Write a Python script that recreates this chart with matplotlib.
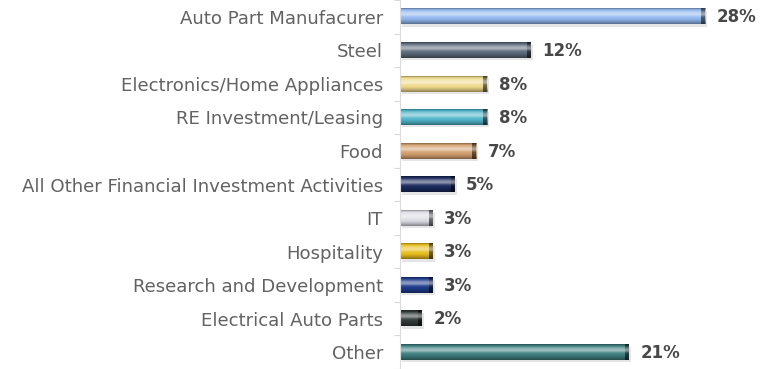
import numpy as np
import matplotlib
matplotlib.use("Agg")
import matplotlib.pyplot as plt
from matplotlib.colors import to_rgb

categories = [
    "Auto Part Manufacurer",
    "Steel",
    "Electronics/Home Appliances",
    "RE Investment/Leasing",
    "Food",
    "All Other Financial Investment Activities",
    "IT",
    "Hospitality",
    "Research and Development",
    "Electrical Auto Parts",
    "Other",
]
values = [28, 12, 8, 8, 7, 5, 3, 3, 3, 2, 21]
bar_colors = [
    "#92b8ee", "#5c6a7a", "#eed98a", "#50b4c8", "#d29f6e", "#1a2a5c",
    "#dcdce4", "#e8be1e", "#1e3a8c", "#323a3a", "#3e7e7e",
]
value_labels = [f"{v}%" for v in values]

plt.rcParams["font.family"] = ["DejaVu Sans"]

W, H, DPI = 776, 369, 100
fig = plt.figure(figsize=(W / DPI, H / DPI), dpi=DPI)
ax = fig.add_axes([400 / W, 0.0, 376 / W, 1.0])

px_per_unit = 10.9
ax.set_xlim(0, 376 / px_per_unit)
row = 34.0
ax.set_ylim(10 + 12 / row, -17 / row)
ax.set_autoscale_on(False)

y = np.arange(len(categories))
bh = 0.46


def mix(c, target, f):
    c = np.array(to_rgb(c))
    return c + (np.array(target) - c) * f


# vertical shading profile of a bar: (position from top, amount)
# positive amounts lighten towards white, negative darken towards black
stops_t = [0.0, 0.12, 0.30, 0.42, 0.55, 0.78, 1.0]
stops_a = [-0.35, 0.05, 0.45, 0.50, 0.10, -0.10, -0.40]
nrow = 40
tt = np.linspace(0, 1, nrow)
amt = np.interp(tt, stops_t, stops_a)


def bar_image(color, ncol=60):
    img = np.zeros((nrow, ncol, 3))
    for i, a in enumerate(amt):
        img[i, :, :] = mix(color, (1, 1, 1), a) if a >= 0 else mix(color, (0, 0, 0), -a)
    return img


for yi, v, c, lab in zip(y, values, bar_colors, value_labels):
    # soft drop shadow
    ax.barh(yi + 0.07, v, height=bh, left=0.2, color="#000000", alpha=0.10,
            linewidth=0, zorder=1)
    # shaded body
    ax.imshow(bar_image(c), extent=(0, v, yi + bh / 2, yi - bh / 2),
              aspect="auto", interpolation="bilinear", zorder=2)
    # dark rounded end cap
    cap = bar_image(mix(c, (0, 0, 0), 0.55))
    ax.imshow(cap, extent=(v - 0.35, v, yi + bh / 2, yi - bh / 2),
              aspect="auto", interpolation="bilinear", zorder=3)
    ax.text(v + 1.05, yi + 0.02, lab, va="center", ha="left", fontsize=12,
            fontweight="bold", color="#484848", zorder=4)

ax.set_ylim(10 + 12 / row, -17 / row)
ax.set_yticks(y)
ax.set_yticklabels(categories, color="#626262")
ax.set_yticks(np.arange(len(categories) + 1) - 0.5, minor=True)
ax.tick_params(axis="y", which="major", length=0, pad=12.2)
ax.tick_params(axis="y", which="minor", length=4, color="#d8d8d8", width=0.8)
ax.set_xticks([])
for s in ["top", "right", "bottom"]:
    ax.spines[s].set_visible(False)
ax.spines["left"].set_color("#dcdcdc")
ax.spines["left"].set_linewidth(0.8)

# size the category labels so the longest one spans its full column
renderer = fig.canvas.get_renderer()
probe = fig.text(0, 0, categories[5], fontsize=10)
w10 = probe.get_window_extent(renderer).width
probe.remove()
label_size = 10 * 361 / w10
for t in ax.get_yticklabels():
    t.set_fontsize(label_size)

fig.savefig("out.png", dpi=DPI, facecolor="white")
